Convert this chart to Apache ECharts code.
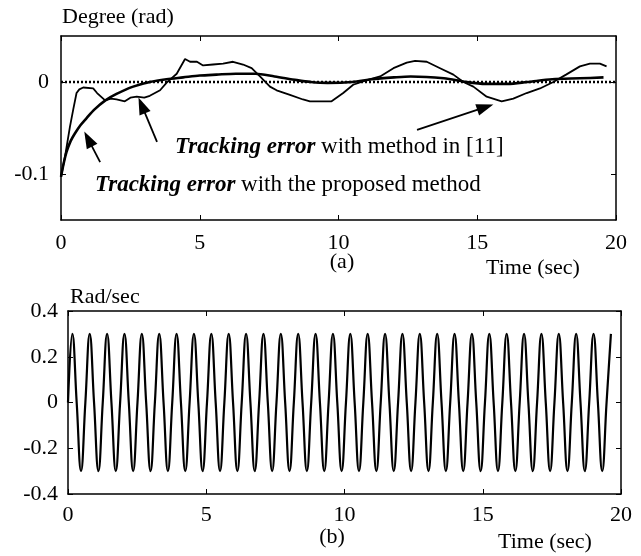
<!DOCTYPE html>
<html>
<head>
<meta charset="utf-8">
<script src="https://cdn.jsdelivr.net/npm/echarts@6.0.0/dist/echarts.min.js"></script>
<style>
html,body{margin:0;padding:0;background:#fff;}
#chart{width:641px;height:556px;}
</style>
</head>
<body>
<div id="chart"></div>
<script>
// ---------- data ----------
const xTicks = [0, 5, 10, 15, 20];
const topYTicks = [0, -0.1];
const bottomYTicks = [-0.4, -0.2, 0, 0.2, 0.4];

// Tracking error with method in [11]  [time, rad]
const errMethod11 = [
  [0, -0.103], [0.15, -0.080], [0.32, -0.049], [0.44, -0.030], [0.56, -0.012],
  [0.66, -0.008], [0.8, -0.006], [1.16, -0.007], [1.3, -0.012], [1.59, -0.020],
  [1.8, -0.018], [2.0, -0.019], [2.3, -0.021], [2.5, -0.017], [2.73, -0.016],
  [3.0, -0.017], [3.2, -0.015], [3.57, -0.009], [3.8, -0.001], [4.17, 0.009],
  [4.47, 0.025], [4.65, 0.022], [4.9, 0.022], [5.12, 0.018], [5.48, 0.019],
  [5.84, 0.020], [6.2, 0.022], [6.56, 0.019], [6.87, 0.015], [7.17, 0.006],
  [7.53, -0.005], [7.77, -0.009], [8.25, -0.014], [8.72, -0.019], [8.97, -0.021],
  [9.75, -0.021], [10.17, -0.012], [10.53, -0.003], [11.02, 0.002], [11.5, 0.006],
  [11.98, 0.015], [12.46, 0.021], [12.76, 0.023], [13.18, 0.022], [13.66, 0.015],
  [14.14, 0.008], [14.5, 0.000], [14.86, -0.005], [15.34, -0.016], [15.88, -0.021],
  [16.3, -0.018], [16.78, -0.012], [17.26, -0.007], [17.74, 0.000], [18.2, 0.008],
  [18.7, 0.017], [19.06, 0.020], [19.42, 0.020], [19.66, 0.017]
];

// Tracking error with the proposed method  [time, rad]
const errProposed = [
  [0, -0.103], [0.1, -0.088], [0.2, -0.076], [0.35, -0.064], [0.5, -0.056],
  [0.7, -0.047], [0.93, -0.039], [1.2, -0.030], [1.6, -0.020], [2.0, -0.013],
  [2.6, -0.005], [3.2, 0.000], [3.8, 0.003], [4.4, 0.005], [5.0, 0.007],
  [5.6, 0.008], [6.3, 0.009], [7.0, 0.009], [7.7, 0.006], [8.5, 0.002],
  [9.0, 0.000], [9.6, -0.001], [10.5, 0.000], [11.2, 0.003], [12.0, 0.005],
  [12.6, 0.006], [13.8, 0.004], [14.6, 0.000], [15.3, -0.002], [16.1, -0.002],
  [16.8, 0.000], [17.7, 0.003], [18.7, 0.004], [19.55, 0.005]
];

// zero reference line
const zeroLine = [[0, 0], [20, 0]];

// annotation arrows [tail, head] in data coords
const arrows = [
  [[1.41, -0.087], [0.98, -0.062]],
  [[3.46, -0.065], [2.91, -0.0255]],
  [[12.83, -0.052], [15.29, -0.0274]]
];

// Rad/sec signal  [time, value] (zero crossings, peaks, troughs)
const speedData = [
[0,0],[0.157,0.3],[0.314,0],[0.471,-0.3],
[0.628,0],[0.785,0.3],[0.942,0],[1.100,-0.3],
[1.257,0],[1.414,0.3],[1.571,0],[1.728,-0.3],
[1.885,0],[2.042,0.3],[2.199,0],[2.356,-0.3],
[2.513,0],[2.670,0.3],[2.827,0],[2.985,-0.3],
[3.142,0],[3.299,0.3],[3.456,0],[3.613,-0.3],
[3.770,0],[3.927,0.3],[4.084,0],[4.241,-0.3],
[4.398,0],[4.555,0.3],[4.712,0],[4.869,-0.3],
[5.027,0],[5.184,0.3],[5.341,0],[5.498,-0.3],
[5.655,0],[5.812,0.3],[5.969,0],[6.126,-0.3],
[6.283,0],[6.440,0.3],[6.597,0],[6.754,-0.3],
[6.912,0],[7.069,0.3],[7.226,0],[7.383,-0.3],
[7.540,0],[7.697,0.3],[7.854,0],[8.011,-0.3],
[8.168,0],[8.325,0.3],[8.482,0],[8.639,-0.3],
[8.796,0],[8.954,0.3],[9.111,0],[9.268,-0.3],
[9.425,0],[9.582,0.3],[9.739,0],[9.896,-0.3],
[10.053,0],[10.210,0.3],[10.367,0],[10.524,-0.3],
[10.681,0],[10.838,0.3],[10.996,0],[11.153,-0.3],
[11.310,0],[11.467,0.3],[11.624,0],[11.781,-0.3],
[11.938,0],[12.095,0.3],[12.252,0],[12.409,-0.3],
[12.566,0],[12.723,0.3],[12.881,0],[13.038,-0.3],
[13.195,0],[13.352,0.3],[13.509,0],[13.666,-0.3],
[13.823,0],[13.980,0.3],[14.137,0],[14.294,-0.3],
[14.451,0],[14.608,0.3],[14.765,0],[14.923,-0.3],
[15.080,0],[15.237,0.3],[15.394,0],[15.551,-0.3],
[15.708,0],[15.865,0.3],[16.022,0],[16.179,-0.3],
[16.336,0],[16.493,0.3],[16.650,0],[16.808,-0.3],
[16.965,0],[17.122,0.3],[17.279,0],[17.436,-0.3],
[17.593,0],[17.750,0.3],[17.907,0],[18.064,-0.3],
[18.221,0],[18.378,0.3],[18.535,0],[18.692,-0.3],
[18.850,0],[19.007,0.3],[19.164,0],[19.321,-0.3],
[19.478,0],[19.635,0.3]
];

// ---------- chart ----------
const FONT = '"Liberation Serif", "Times New Roman", serif';
const chart = echarts.init(document.getElementById('chart'), null, {renderer: 'canvas'});

function xAx(grid, pos, showLabel, margin) {
  return {
    type: 'value', gridIndex: grid, position: pos, min: 0, max: 20, interval: 5,
    axisLine: {show: true, onZero: false, lineStyle: {color: '#000', width: 1.5}},
    axisTick: {show: true, inside: true, length: 5, lineStyle: {color: '#000', width: 1}},
    axisLabel: {show: showLabel, color: '#000', fontFamily: FONT, fontSize: 22, margin: margin,
      customValues: xTicks},
    splitLine: {show: false}
  };
}
function yAx(grid, pos, showLabel, min, max, interval, ticks, margin) {
  return {
    type: 'value', gridIndex: grid, position: pos, min: min, max: max, interval: interval,
    axisLine: {show: true, onZero: false, lineStyle: {color: '#000', width: 1.5}},
    axisTick: {show: true, inside: true, length: 5, lineStyle: {color: '#000', width: 1}, customValues: ticks},
    axisLabel: {show: showLabel, color: '#000', fontFamily: FONT, fontSize: 22, margin: margin, customValues: ticks},
    splitLine: {show: false}
  };
}

const option = {
  animation: false,
  backgroundColor: '#fff',
  grid: [
    {left: 61, top: 36, width: 555, height: 184},
    {left: 68, top: 311, width: 553, height: 183}
  ],
  xAxis: [
    xAx(0, 'bottom', true, 12),
    xAx(0, 'top', false, 8),
    xAx(1, 'bottom', true, 10),
    xAx(1, 'top', false, 8)
  ],
  yAxis: [
    yAx(0, 'left', true, -0.15, 0.05, 0.05, topYTicks, 12),
    yAx(0, 'right', false, -0.15, 0.05, 0.05, topYTicks, 8),
    yAx(1, 'left', true, -0.4, 0.4, 0.2, bottomYTicks, 10),
    yAx(1, 'right', false, -0.4, 0.4, 0.2, bottomYTicks, 8)
  ],
  series: [
    {
      type: 'line', xAxisIndex: 0, yAxisIndex: 0, data: zeroLine, symbol: 'none',
      lineStyle: {color: '#000', width: 2.5, type: [2, 2]}, silent: true
    },
    {
      type: 'line', xAxisIndex: 0, yAxisIndex: 0, data: errProposed, symbol: 'none',
      smooth: 0.3, lineStyle: {color: '#000', width: 2.6}
    },
    {
      type: 'line', xAxisIndex: 0, yAxisIndex: 0, data: errMethod11, symbol: 'none',
      lineStyle: {color: '#000', width: 1.8},
      markLine: {
        silent: true, symbol: ['none', 'triangle'], symbolSize: [12, 17],
        lineStyle: {color: '#000', width: 1.8, type: 'solid'},
        itemStyle: {color: '#000'},
        label: {show: false},
        data: arrows.map(a => [{coord: a[0]}, {coord: a[1]}])
      }
    },
    {
      type: 'line', xAxisIndex: 2, yAxisIndex: 2, data: speedData, symbol: 'none',
      smooth: 0.45, lineStyle: {color: '#000', width: 2.2}
    }
  ],
  graphic: [
    {type: 'text', x: 62, y: 17, style: {text: 'Degree (rad)', font: '22px ' + FONT, fill: '#000', verticalAlign: 'middle'}},
    {type: 'text', x: 175, y: 147, style: {
      text: '{b|Tracking error} with method in [11]', font: '23px ' + FONT, fill: '#000', verticalAlign: 'middle',
      rich: {b: {font: 'italic bold 23px ' + FONT, fill: '#000'}}}},
    {type: 'text', x: 95, y: 185, style: {
      text: '{b|Tracking error} with the proposed method', font: '23px ' + FONT, fill: '#000', verticalAlign: 'middle',
      rich: {b: {font: 'italic bold 23px ' + FONT, fill: '#000'}}}},
    {type: 'text', x: 342, y: 262, style: {text: '(a)', font: '22px ' + FONT, fill: '#000', align: 'center', verticalAlign: 'middle'}},
    {type: 'text', x: 533, y: 268, style: {text: 'Time (sec)', font: '22px ' + FONT, fill: '#000', align: 'center', verticalAlign: 'middle'}},
    {type: 'text', x: 70, y: 297, style: {text: 'Rad/sec', font: '22px ' + FONT, fill: '#000', verticalAlign: 'middle'}},
    {type: 'text', x: 332, y: 537, style: {text: '(b)', font: '22px ' + FONT, fill: '#000', align: 'center', verticalAlign: 'middle'}},
    {type: 'text', x: 545, y: 542, style: {text: 'Time (sec)', font: '22px ' + FONT, fill: '#000', align: 'center', verticalAlign: 'middle'}}
  ]
};
chart.setOption(option);
</script>
</body>
</html>
